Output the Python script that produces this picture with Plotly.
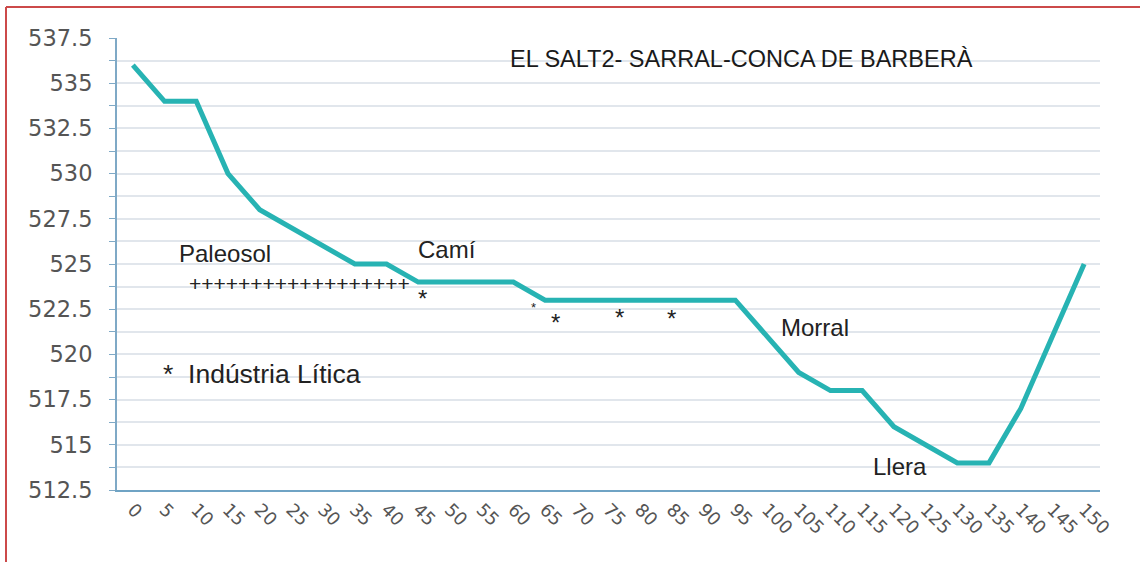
import plotly.graph_objects as go

# Data
distance = [0, 5, 10, 15, 20, 25, 30, 35, 40, 45, 50, 55, 60, 65, 70, 75, 80, 85, 90, 95,
            100, 105, 110, 115, 120, 125, 130, 135, 140, 145, 150]
elevation = [536, 534, 534, 530, 528, 527, 526, 525, 525, 524, 524, 524, 524, 523, 523, 523, 523, 523, 523, 523,
             521, 519, 518, 518, 516, 515, 514, 514, 517, 521, 525]
x_tick_labels = [str(d) for d in distance]

title_text = "EL SALT2- SARRAL-CONCA DE BARBERÀ"

# Text labels: (text, x, y, size)
labels = [
    ("Paleosol", 14.5, 525.6, 24),
    ("++++++++++++++++++", 26.3, 523.9, 21),
    ("Camí", 49.5, 525.8, 24),
    ("Morral", 107.6, 521.5, 24),
    ("Llera", 121.0, 513.8, 24),
    ("*  Indústria Lítica", 20.4, 518.9, 26.5),
]
stars = [  # (x, y, size)
    (45.6, 523.45, 24),
    (63.1, 522.8, 13),
    (66.6, 522.1, 24),
    (76.8, 522.4, 24),
    (84.9, 522.3, 24),
]

fig = go.Figure()
fig.add_trace(go.Scatter(
    x=distance, y=elevation, mode="lines",
    line=dict(color="#27b3b3", width=5),
    showlegend=False, hoverinfo="skip",
))

font_family = "Liberation Sans, Arial, sans-serif"
for text, x, y, size in labels:
    fig.add_annotation(x=x, y=y, xref="x", yref="y", text=text, showarrow=False,
                       font=dict(family=font_family, size=size, color="#222222"))
for x, y, size in stars:
    fig.add_annotation(x=x, y=y, xref="x", yref="y", text="*", showarrow=False, yshift=-size*0.25,
                       font=dict(family=font_family, size=size, color="#222222"))

fig.add_annotation(x=0.6353, y=0.9867, xref="paper", yref="paper", text=title_text, showarrow=False,
                   font=dict(family=font_family, size=23.5, color="#1a1a1a"))

grid_col = "#e1e6ec"
bx0 = (6 - 117) / 983
bx1 = (1160 - 117) / 983
by0 = (490 - 580) / 452
by1 = (490 - 7) / 452
fig.update_layout(
    width=1140, height=562,
    margin=dict(l=117, r=40, t=38, b=72),
    paper_bgcolor="white", plot_bgcolor="white",
    xaxis=dict(
        range=[-2.5, 152.5], tickmode="array", tickvals=distance, ticktext=x_tick_labels,
        tickangle=45, showgrid=False, zeroline=False,
        showline=True, linecolor="#6fa3c4", linewidth=2,
        tickfont=dict(family="DejaVu Sans", size=18, color="#555555"),
        ticks="",
    ),
    yaxis=dict(
        range=[512.5, 537.5], dtick=2.5, tick0=512.5,
        showgrid=True, gridcolor=grid_col, gridwidth=2, zeroline=False,
        showline=True, linecolor="#7fa9c6", linewidth=2,
        ticks="outside", ticklen=6, tickcolor="#7fa9c6", ticklabelstandoff=12,
        tickfont=dict(family="DejaVu Sans", size=22.5, color="#555555"),
        minor=dict(dtick=1.25, tick0=512.5, showgrid=True, gridcolor=grid_col, gridwidth=2,
                   ticks="outside", ticklen=6, tickcolor="#7fa9c6"),
    ),
    shapes=[
        dict(type="line", xref="paper", yref="paper", x0=bx0, x1=bx0, y0=by0, y1=by1,
             line=dict(color="#cc4a4a", width=2), layer="below"),
        dict(type="line", xref="paper", yref="paper", x0=bx0, x1=bx1, y0=by1, y1=by1,
             line=dict(color="#cc4a4a", width=2), layer="below"),
    ],
)

fig.write_html("out.html", config={"displayModeBar": False},
               post_script="document.body.style.margin='0';")
